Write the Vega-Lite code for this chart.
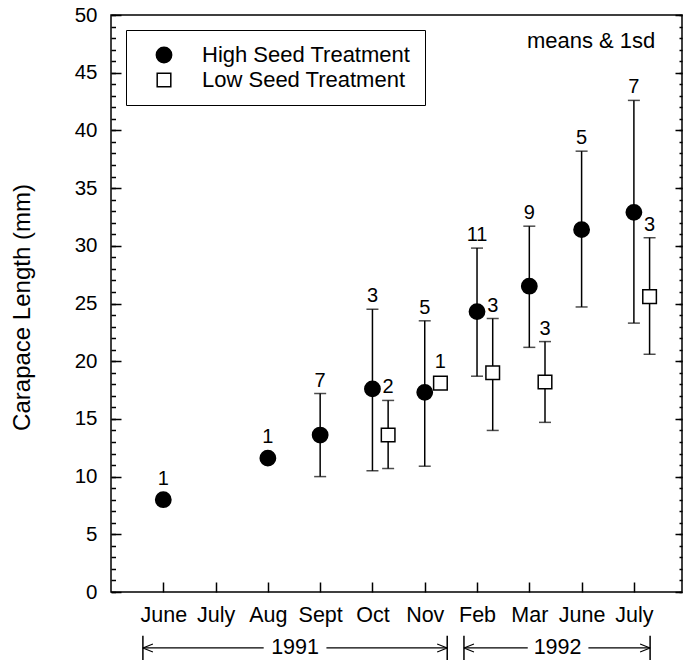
{
  "$schema": "https://vega.github.io/schema/vega-lite/v6.json",
  "width": 571,
  "height": 577,
  "autosize": {"type": "none"},
  "padding": {"left": 111, "top": 15, "right": 1, "bottom": 68},
  "background": "white",
  "config": {
    "font": "Liberation Sans",
    "view": {"stroke": "black", "strokeWidth": 1.5},
    "axis": {"grid": false, "domain": false, "labelColor": "black", "tickColor": "black", "titleColor": "black", "labelFont": "Liberation Sans", "titleFont": "Liberation Sans"},
    "text": {"font": "Liberation Sans", "color": "black"}
  },
  "datasets": {
    "pts": [
      {"m": 1, "group": "High Seed Treatment", "mean": 8.0, "n": "1"},
      {"m": 3, "group": "High Seed Treatment", "mean": 11.6, "n": "1"},
      {"m": 4, "group": "High Seed Treatment", "mean": 13.6, "lo": 10.0, "hi": 17.2, "n": "7"},
      {"m": 5, "group": "High Seed Treatment", "mean": 17.6, "lo": 10.5, "hi": 24.5, "n": "3"},
      {"m": 6, "group": "High Seed Treatment", "mean": 17.3, "lo": 10.9, "hi": 23.5, "n": "5"},
      {"m": 7, "group": "High Seed Treatment", "mean": 24.3, "lo": 18.7, "hi": 29.8, "n": "11"},
      {"m": 8, "group": "High Seed Treatment", "mean": 26.5, "lo": 21.2, "hi": 31.7, "n": "9"},
      {"m": 9, "group": "High Seed Treatment", "mean": 31.4, "lo": 24.7, "hi": 38.2, "n": "5"},
      {"m": 10, "group": "High Seed Treatment", "mean": 32.9, "lo": 23.3, "hi": 42.6, "n": "7"},
      {"m": 5.3, "group": "Low Seed Treatment", "mean": 13.6, "lo": 10.7, "hi": 16.6, "n": "2"},
      {"m": 6.3, "group": "Low Seed Treatment", "mean": 18.1, "n": "1"},
      {"m": 7.3, "group": "Low Seed Treatment", "mean": 19.0, "lo": 14.0, "hi": 23.7, "n": "3"},
      {"m": 8.3, "group": "Low Seed Treatment", "mean": 18.2, "lo": 14.7, "hi": 21.7, "n": "3"},
      {"m": 10.3, "group": "Low Seed Treatment", "mean": 25.6, "lo": 20.6, "hi": 30.7, "n": "3"}
    ],
    "yearText": [{"label": "1991", "x": 3.52}, {"label": "1992", "x": 8.54}],
    "yearLines": [{"x": 0.61, "x2": 2.92}, {"x": 4.12, "x2": 6.43}, {"x": 6.75, "x2": 7.97}, {"x": 9.13, "x2": 10.31}],
    "yearBars": [{"x": 0.61}, {"x": 6.43}, {"x": 6.75}, {"x": 10.31}],
    "arrows": [{"x": 0.61, "dir": "left"}, {"x": 6.43, "dir": "right"}, {"x": 6.75, "dir": "left"}, {"x": 10.31, "dir": "right"}]
  },
  "layer": [
    {
      "data": {"name": "pts"},
      "transform": [{"filter": "isValid(datum.hi)"}],
      "mark": {"type": "rule", "color": "black", "strokeWidth": 1.5},
      "encoding": {
        "x": {"field": "m", "type": "quantitative", "scale": {"domain": [0, 10.92], "nice": false, "zero": false},
          "axis": {"values": [1, 2, 3, 4, 5, 6, 7, 8, 9, 10], "labelExpr": "['','June','July','Aug','Sept','Oct','Nov','Feb','Mar','June','July'][datum.value]", "tickSize": -10, "tickWidth": 1.5, "labelPadding": 22.5, "labelFontSize": 21.5, "labelFlush": false, "labelOverlap": false, "title": null}},
        "y": {"field": "lo", "type": "quantitative", "scale": {"domain": [0, 50], "nice": false, "zero": false},
          "axis": {"orient": "left", "values": [0, 5, 10, 15, 20, 25, 30, 35, 40, 45, 50], "tickSize": -10, "tickWidth": 1.5, "labelPadding": 24, "labelFontSize": 20.5, "labelFlush": false, "labelOverlap": false, "title": "Carapace Length (mm)", "titleFontSize": 24, "titleFontWeight": "normal", "titleX": -89, "titleY": 292, "titleAngle": -90, "titleAlign": "center", "titleBaseline": "middle"}},
        "y2": {"field": "hi"}
      }
    },
    {
      "data": {"name": "pts"},
      "transform": [{"filter": "isValid(datum.lo)"}],
      "mark": {"type": "tick", "orient": "horizontal", "color": "black", "size": 12, "thickness": 1.5},
      "encoding": {
        "x": {"field": "m", "type": "quantitative", "axis": null},
        "y": {"field": "lo", "type": "quantitative",
          "axis": {"orient": "left", "values": [0,1,2,3,4,5,6,7,8,9,10,11,12,13,14,15,16,17,18,19,20,21,22,23,24,25,26,27,28,29,30,31,32,33,34,35,36,37,38,39,40,41,42,43,44,45,46,47,48,49,50], "tickSize": -4.5, "tickWidth": 1.5, "labels": false, "title": null}}
      }
    },
    {
      "data": {"name": "pts"},
      "transform": [{"filter": "isValid(datum.hi)"}],
      "mark": {"type": "tick", "orient": "horizontal", "color": "black", "size": 12, "thickness": 1.5},
      "encoding": {
        "x": {"field": "m", "type": "quantitative", "axis": null},
        "y": {"field": "hi", "type": "quantitative",
          "axis": {"orient": "right", "values": [0, 5, 10, 15, 20, 25, 30, 35, 40, 45, 50], "tickSize": -7, "tickWidth": 1.5, "labels": false, "title": null}}
      }
    },
    {
      "data": {"name": "pts"},
      "mark": {"type": "point", "filled": true, "stroke": "black", "strokeWidth": 1.5, "opacity": 1},
      "encoding": {
        "x": {"field": "m", "type": "quantitative", "axis": null},
        "y": {"field": "mean", "type": "quantitative",
          "axis": {"orient": "right", "values": [0,1,2,3,4,5,6,7,8,9,10,11,12,13,14,15,16,17,18,19,20,21,22,23,24,25,26,27,28,29,30,31,32,33,34,35,36,37,38,39,40,41,42,43,44,45,46,47,48,49,50], "tickSize": -3, "tickWidth": 1.5, "labels": false, "title": null}},
        "shape": {"field": "group", "type": "nominal", "scale": {"domain": ["High Seed Treatment", "Low Seed Treatment"], "range": ["circle", "square"]},
          "legend": {"title": null, "orient": "none", "legendX": 15, "legendY": 15, "strokeColor": "black", "fillColor": "white", "padding": 14, "labelFontSize": 22, "labelColor": "black", "labelLimit": 400, "symbolOffset": 13, "labelOffset": 27, "rowPadding": 3, "symbolStrokeColor": "black", "symbolStrokeWidth": 1.5,
            "encode": {"legend": {"update": {"strokeWidth": {"value": 1.5}}}, "symbols": {"update": {"size": {"signal": "datum.value === 'Low Seed Treatment' ? 70 : 260"}, "stroke": {"value": "black"}}}}}},
        "fill": {"field": "group", "type": "nominal", "scale": {"domain": ["High Seed Treatment", "Low Seed Treatment"], "range": ["black", "white"]}},
        "size": {"field": "group", "type": "nominal", "scale": {"domain": ["High Seed Treatment", "Low Seed Treatment"], "range": [235, 185]}}
      }
    },
    {
      "data": {"name": "pts"},
      "transform": [{"filter": "isValid(datum.hi)"}],
      "mark": {"type": "text", "fontSize": 20, "baseline": "alphabetic", "align": "center", "dy": -7},
      "encoding": {
        "x": {"field": "m", "type": "quantitative", "axis": null},
        "y": {"field": "hi", "type": "quantitative", "axis": null},
        "text": {"field": "n"}
      }
    },
    {
      "data": {"name": "pts"},
      "transform": [{"filter": "!isValid(datum.hi)"}],
      "mark": {"type": "text", "fontSize": 20, "baseline": "alphabetic", "align": "center", "dy": -15},
      "encoding": {
        "x": {"field": "m", "type": "quantitative", "axis": null},
        "y": {"field": "mean", "type": "quantitative", "axis": null},
        "text": {"field": "n"}
      }
    },
    {
      "data": {"values": [{"label": "means & 1sd"}]},
      "mark": {"type": "text", "fontSize": 22, "baseline": "alphabetic", "align": "right"},
      "encoding": {
        "x": {"datum": 10.41, "type": "quantitative", "axis": null},
        "y": {"datum": 47.1, "type": "quantitative", "axis": null},
        "text": {"field": "label"}
      }
    },
    {
      "data": {"name": "yearText"},
      "mark": {"type": "text", "fontSize": 21.5, "baseline": "middle", "align": "center"},
      "encoding": {
        "x": {"field": "x", "type": "quantitative", "axis": null},
        "y": {"datum": -4.85, "type": "quantitative", "axis": null},
        "text": {"field": "label"}
      }
    },
    {
      "data": {"name": "yearLines"},
      "mark": {"type": "rule", "color": "black", "strokeWidth": 1.2},
      "encoding": {
        "x": {"field": "x", "type": "quantitative", "axis": null},
        "x2": {"field": "x2"},
        "y": {"datum": -4.85, "type": "quantitative", "axis": null}
      }
    },
    {
      "data": {"name": "yearBars"},
      "mark": {"type": "rule", "color": "black", "strokeWidth": 1.5},
      "encoding": {
        "x": {"field": "x", "type": "quantitative", "axis": null},
        "y": {"datum": -3.8, "type": "quantitative", "axis": null},
        "y2": {"datum": -5.9}
      }
    },
    {
      "data": {"name": "arrows"},
      "transform": [{"filter": "datum.dir === 'left'"}],
      "mark": {"type": "point", "shape": "M0,0L2,-0.8M0,0L2,0.8", "size": 100, "filled": false, "stroke": "black", "strokeWidth": 1.2, "opacity": 1},
      "encoding": {
        "x": {"field": "x", "type": "quantitative", "axis": null},
        "y": {"datum": -4.85, "type": "quantitative", "axis": null}
      }
    },
    {
      "data": {"name": "arrows"},
      "transform": [{"filter": "datum.dir === 'right'"}],
      "mark": {"type": "point", "shape": "M0,0L-2,-0.8M0,0L-2,0.8", "size": 100, "filled": false, "stroke": "black", "strokeWidth": 1.2, "opacity": 1},
      "encoding": {
        "x": {"field": "x", "type": "quantitative", "axis": null},
        "y": {"datum": -4.85, "type": "quantitative", "axis": null}
      }
    }
  ],
  "resolve": {"axis": {"x": "independent", "y": "independent"}}
}
